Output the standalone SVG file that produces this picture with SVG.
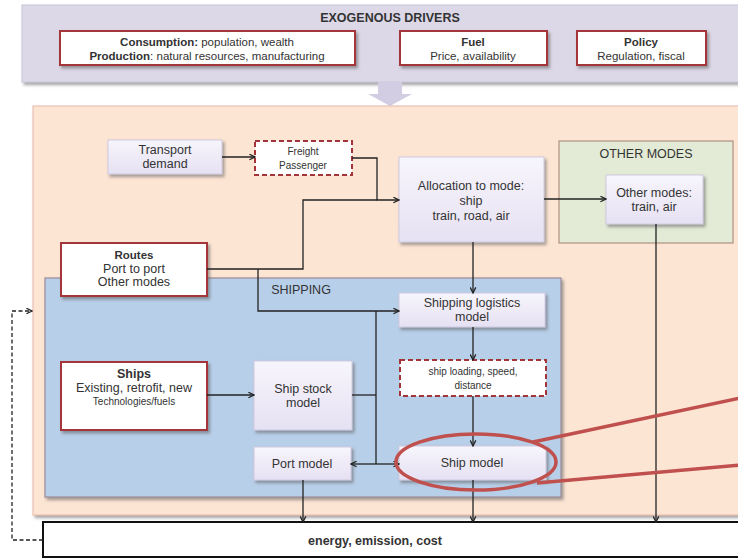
<svg xmlns="http://www.w3.org/2000/svg" width="738" height="560" viewBox="0 0 738 560">
<defs>
<filter id="sh" x="-10%" y="-10%" width="130%" height="140%">
<feDropShadow dx="2" dy="2.5" stdDeviation="1.5" flood-color="#555" flood-opacity="0.55"/>
</filter>
<linearGradient id="lav" x1="0" y1="0" x2="0" y2="1">
<stop offset="0" stop-color="#f7f5fc"/>
<stop offset="1" stop-color="#e6e1f3"/>
</linearGradient>
<marker id="ah" viewBox="0 0 10 10" refX="9" refY="5" markerWidth="7" markerHeight="7" orient="auto-start-reverse" markerUnits="userSpaceOnUse">
<path d="M1,1 L9,5 L1,9" fill="none" stroke="#222" stroke-width="1.8"/>
</marker>
</defs>
<style>
text{font-family:"Liberation Sans Narrow","Liberation Sans",Arial,sans-serif;fill:#333;text-anchor:middle}
.b{font-weight:bold}
.lav{fill:url(#lav);stroke:#cfcadf;stroke-width:1;filter:url(#sh)}
.red{fill:#fff;stroke:#a3353a;stroke-width:2;filter:url(#sh)}
.dash{fill:#fff;stroke:#a3353a;stroke-width:2;stroke-dasharray:5,3}
.c{fill:none;stroke:#222;stroke-width:1.3}
.ca{fill:none;stroke:#222;stroke-width:1.3;marker-end:url(#ah)}
.t12{font-size:12.5px}
.t11{font-size:11.5px}
.t10{font-size:10px}
</style>
<rect width="738" height="560" fill="#fff"/>

<g id="exogenous">
<rect x="22" y="5" width="730" height="77" fill="#dcd8e7" stroke="#c8c4d6" filter="url(#sh)"/>
<text x="390" y="22" class="b t12">EXOGENOUS DRIVERS</text>
</g>
<g id="consumption">
<rect x="60" y="31" width="295" height="34" class="red"/>
<text x="207" y="46" class="t11"><tspan class="b">Consumption:</tspan> population, wealth</text>
<text x="207" y="60" class="t11"><tspan class="b">Production</tspan>: natural resources, manufacturing</text>
</g>
<g id="fuel">
<rect x="400" y="31" width="147" height="34" class="red"/>
<text x="473" y="46" class="b t11">Fuel</text>
<text x="473" y="60" class="t11">Price, availability</text>
</g>
<g id="policy">
<rect x="577" y="31" width="129" height="34" class="red"/>
<text x="641" y="46" class="b t11">Policy</text>
<text x="641" y="60" class="t11">Regulation, fiscal</text>
</g>
<g id="drivers-arrow">
<path d="M378,82 H402 V94 H412 L390,106 L368,94 H378 Z" fill="#d2cde3"/>
</g>

<g id="main-panel">
<rect x="33" y="106" width="720" height="409" fill="#fde5d4" stroke="#e8b8a8" filter="url(#sh)"/>
</g>
<g id="other-modes-panel">
<rect x="559" y="141" width="174" height="102" fill="#e3ebd6" stroke="#b09080" stroke-width="1.2"/>
<text x="646" y="158" class="t12">OTHER MODES</text>
</g>
<g id="shipping-panel">
<rect x="45" y="278" width="516" height="219" fill="#b8cfe9" stroke="#9a8a9a" stroke-width="1.2" filter="url(#sh)"/>
<text x="301" y="294" class="t12">SHIPPING</text>
</g>

<g id="transport-demand">
<rect x="108" y="140" width="114" height="34" class="lav"/>
<text x="165" y="154" class="t12">Transport</text>
<text x="165" y="168" class="t12">demand</text>
</g>
<g id="freight">
<rect x="255" y="141" width="97" height="34" class="dash"/>
<text x="303" y="155" class="t10">Freight</text>
<text x="303" y="169" class="t10">Passenger</text>
</g>
<g id="allocation">
<rect x="399" y="157" width="145" height="85" class="lav"/>
<text x="471" y="190" class="t12">Allocation to mode:</text>
<text x="471" y="205" class="t12">ship</text>
<text x="471" y="220" class="t12">train, road, air</text>
</g>
<g id="other-modes">
<rect x="606" y="175" width="97" height="49" class="lav"/>
<text x="654" y="197" class="t12">Other modes:</text>
<text x="654" y="211" class="t12">train, air</text>
</g>
<g id="routes">
<rect x="61" y="243" width="146" height="53" class="red"/>
<text x="134" y="259" class="b t11">Routes</text>
<text x="134" y="273" class="t12">Port to port</text>
<text x="134" y="286" class="t12">Other modes</text>
</g>
<g id="shipping-logistics">
<rect x="399" y="293" width="146" height="34" class="lav"/>
<text x="472" y="307" class="t12">Shipping logistics</text>
<text x="472" y="321" class="t12">model</text>
</g>
<g id="ship-loading">
<rect x="400" y="360" width="146" height="36" class="dash"/>
<text x="473" y="375" class="t10">ship loading, speed,</text>
<text x="473" y="389" class="t10">distance</text>
</g>
<g id="ships">
<rect x="61" y="362" width="146" height="68" class="red"/>
<text x="134" y="378" class="b t12">Ships</text>
<text x="134" y="392" class="t12">Existing, retrofit, new</text>
<text x="134" y="405" class="t10">Technologies/fuels</text>
</g>
<g id="ship-stock">
<rect x="254" y="361" width="98" height="69" class="lav"/>
<text x="303" y="393" class="t12">Ship stock</text>
<text x="303" y="407" class="t12">model</text>
</g>
<g id="port-model">
<rect x="254" y="447" width="97" height="33" class="lav"/>
<text x="302" y="468" class="t12">Port model</text>
</g>
<g id="ship-model">
<rect x="399" y="446" width="147" height="34" class="lav"/>
<text x="472" y="467" class="t12">Ship model</text>
</g>
<g id="energy">
<rect x="43" y="522" width="710" height="35" fill="#fff" stroke="#111" stroke-width="2"/>
<text x="375" y="545" class="b t12">energy, emission, cost</text>
</g>

<g id="connectors">
<path class="ca" d="M222,157 H255"/>
<path class="ca" d="M352,158 H377 V200 H399"/>
<path class="c" d="M207,269 H303 V200 H377"/>
<path class="ca" d="M544,199 H606"/>
<path class="ca" d="M473,242 V293"/>
<path class="ca" d="M258,269 V311 H399"/>
<path class="c" d="M376,311 V464"/>
<path class="c" d="M352,395 H376"/>
<path class="ca" d="M207,395 H254"/>
<path class="ca" d="M376,464 H351"/>
<path class="ca" d="M376,464 H399"/>
<path class="ca" d="M473,327 V360"/>
<path class="ca" d="M473,396 V446"/>
<path class="ca" d="M473,480 V522"/>
<path class="ca" d="M303,480 V522"/>
<path class="ca" d="M656,224 V522"/>
<path class="ca" d="M43,540 H12 V311 H32" stroke-dasharray="4,2.5"/>
</g>

<g id="highlight">
<ellipse cx="476" cy="462" rx="80" ry="28" fill="none" stroke="#c0504d" stroke-width="3.5"/>
<path d="M533,442 L740,398 M537,483 L740,465" fill="none" stroke="#c0504d" stroke-width="3.5"/>
</g>
</svg>
